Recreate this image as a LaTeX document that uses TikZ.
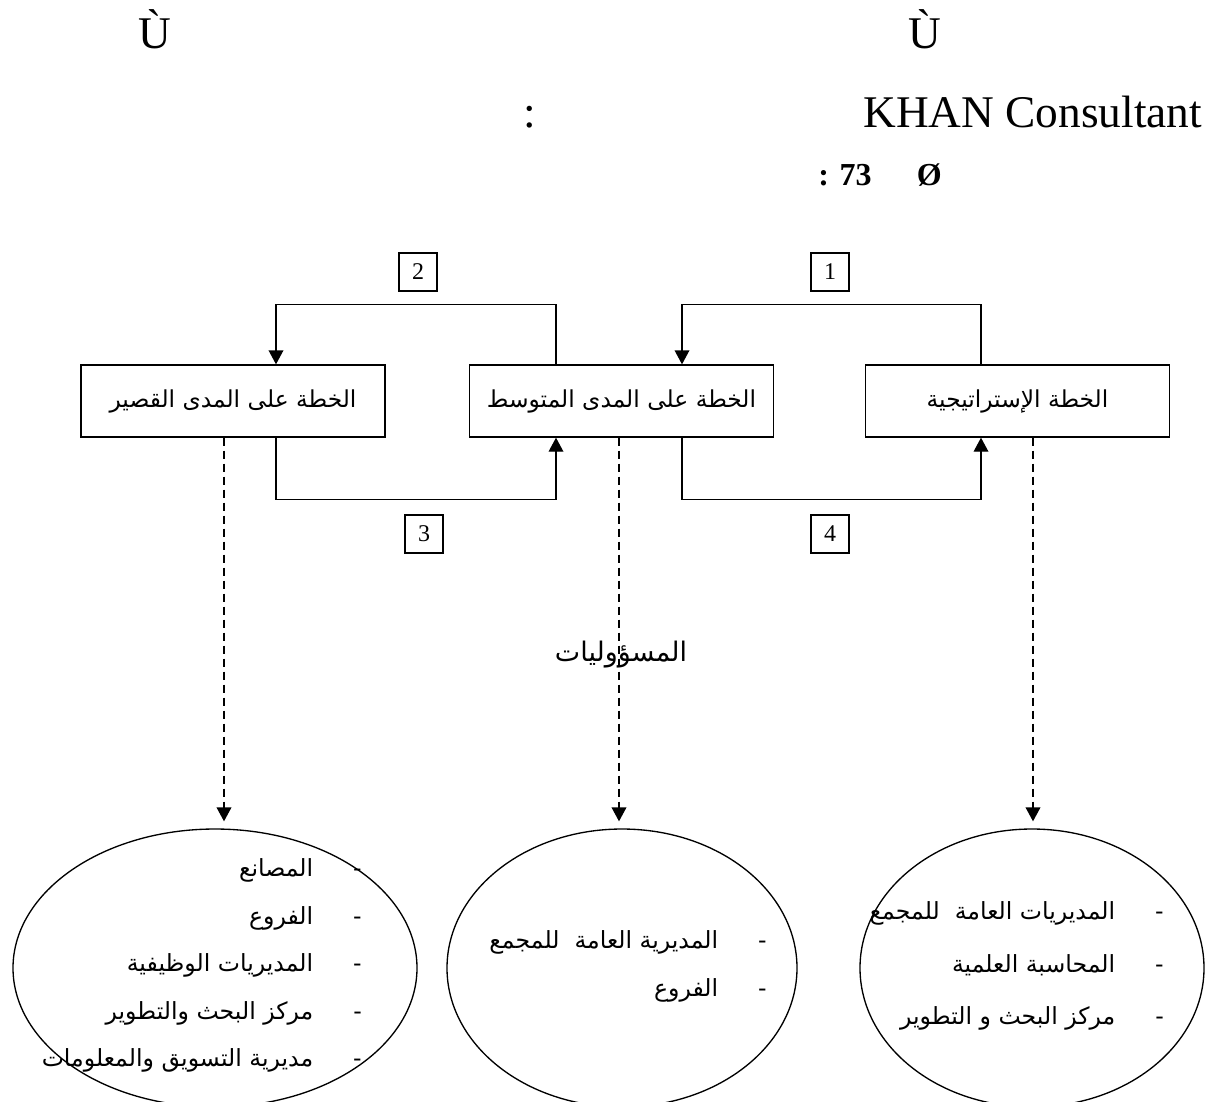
\documentclass[tikz,border=0pt]{standalone}
\usepackage{fontspec}
\setmainfont{Liberation Serif}
\newfontfamily\arabicfont[Script=Arabic]{DejaVu Sans}
\TeXXeTstate=1
\usetikzlibrary{arrows.meta,positioning,shapes.geometric}
\newcommand{\artxt}[1]{{\arabicfont\beginR #1\endR}}

\begin{document}
\begin{tikzpicture}[
  x=0.75pt,y=-0.75pt,
  latin/.style={font=\fontsize{34}{40}\selectfont,inner sep=0pt},
  planbox/.style={draw,line width=1pt,minimum width=228pt,minimum height=54pt,inner sep=0pt,font=\arabicfont\fontsize{17.5}{21}\selectfont},
  numbox/.style={draw,line width=.8pt,minimum width=28.5pt,minimum height=28.5pt,inner sep=0pt,font=\fontsize{18}{21}\selectfont},
  group/.style={draw,ellipse,line width=1pt,inner sep=0pt,minimum height=208.5pt},
  item/.style={anchor=east,inner sep=0pt,font=\arabicfont\fontsize{17.7}{21}\selectfont},
  flow/.style={-{Triangle[length=10.5pt,width=11pt]},line width=1pt},
  dashflow/.style={flow,line width=1.2pt,dash pattern=on 6pt off 3.75pt}
]
\clip (0,0) rectangle (1206,1101);
\fill[white] (0,0) rectangle (1206,1101);

% header
\node[latin,anchor=base] (u1) at (155,48) {Ù};
\node[latin,anchor=base] (u2) at (925,48) {Ù};
\node[latin,anchor=base] (colon) at (530,127) {:};
\node[latin,anchor=base west] (khan) at (863,127) {KHAN Consultant};
\node[latin,anchor=base west,font=\bfseries\fontsize{24}{28}\selectfont] (fig) at (818,185) {: 73\hspace{34pt}Ø};

% plans
\node[planbox] (short) at (233,401) {\artxt{الخطة على المدى القصير}};
\node[planbox] (mid) at (621.5,401) {\artxt{الخطة على المدى المتوسط}};
\node[planbox] (strat) at (1017.5,401) {\artxt{الخطة الإستراتيجية}};

\draw[flow] ([shift={(-36.5,0)}]strat.north) -- ++(0,-60) -| ([shift={(60.5,0)}]mid.north);
\draw[flow] ([shift={(-65.5,0)}]mid.north) -- ++(0,-60) -| ([shift={(43,0)}]short.north);
\draw[flow] ([shift={(43,0)}]short.south) -- ++(0,62) -| ([shift={(-65.5,0)}]mid.south);
\draw[flow] ([shift={(60.5,0)}]mid.south) -- ++(0,62) -| ([shift={(-36.5,0)}]strat.south);

\node[numbox] (n1) at (830,272) {1};
\node[numbox] (n2) at (418,272) {2};
\node[numbox] (n3) at (424,534) {3};
\node[numbox] (n4) at (830,534) {4};

% responsibilities
\node[group,minimum width=303pt] (lgrp) at (215,968) {};
\node[group,minimum width=262.5pt] (mgrp) at (622,968) {};
\node[group,minimum width=258pt] (rgrp) at (1032,968) {};

\draw[dashflow] ([shift={(-9,0)}]short.south) -- ([shift={(9,-7)}]lgrp.north);
\draw[dashflow] ([shift={(-2.5,0)}]mid.south) -- ([shift={(-3,-7)}]mgrp.north);
\draw[dashflow] ([shift={(15.5,0)}]strat.south) -- ([shift={(1,-7)}]rgrp.north);

\node[font=\arabicfont\fontsize{20.2}{24}\selectfont,inner sep=0pt] (resp) at (621,655) {\artxt{المسؤوليات}};

\foreach \y/\txt [count=\i] in {870/المصانع,918/الفروع,965/المديريات الوظيفية,1013/مركز البحث والتطوير,1060/مديرية التسويق والمعلومات}
  \node[item] (l\i) at (362,\y) {\artxt{-\hspace{30pt}\txt}};
\foreach \y/\txt [count=\i] in {942/المديرية العامة~~للمجمع,990/الفروع}
  \node[item] (m\i) at (767,\y) {\artxt{-\hspace{30pt}\txt}};
\foreach \y/\txt [count=\i] in {913/المديريات العامة~~للمجمع,965/المحاسبة العلمية,1018/مركز البحث و التطوير}
  \node[item] (r\i) at (1164,\y) {\artxt{-\hspace{30pt}\txt}};
\end{tikzpicture}
\end{document}
